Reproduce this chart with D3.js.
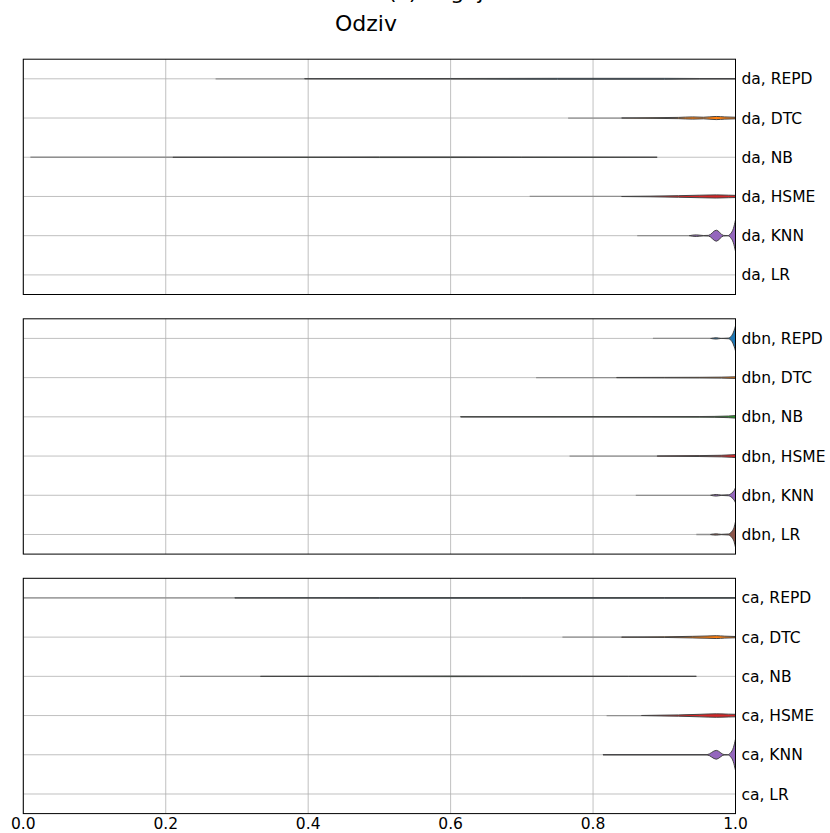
<!DOCTYPE html>
<html>
<head>
<meta charset="utf-8">
<script src="https://cdn.jsdelivr.net/npm/d3@7"></script>
<style>
  html, body { margin: 0; padding: 0; background: #fff; }
  svg { display: block; font-family: "DejaVu Sans", sans-serif; }
</style>
</head>
<body>
<svg id="chart" width="830" height="833"></svg>
<script>
// ---------------- DATA ----------------
const categories = ["REPD", "DTC", "NB", "HSME", "KNN", "LR"];
const groups = ["da", "dbn", "ca"];
const xTicks = [0.0, 0.2, 0.4, 0.6, 0.8, 1.0];
const seriesColors = ["#1f77b4", "#ff7f0e", "#2ca02c", "#d62728", "#9467bd", "#8c564b"];
const suptitle = "(c) Pogojna";
const title = "Odziv";

// faint low-density tails: [start, end] in recall units (null = none)
const tailsDa  = [[0.27, 0.395], [0.765, 0.84], [0.01, 0.21], [0.711, 0.84], [0.862, 0.935], null];
const tailsDbn = [[0.884, 0.965], [0.72, 0.833], null, [0.767, 0.89], [0.86, 0.965], [0.945, 0.965]];
const tailsCa  = [[0.0, 0.297], [0.757, 0.84], [0.22, 0.333], [0.819, 0.868], null, null];

// violin bodies: [recall, relative half-width]
const bodiesDa = [
  [[0.395, 0.01], [0.6, 0.02], [0.75, 0.03], [0.9, 0.03], [0.95, 0.02], [1.0, 0.02]],
  [[0.84, 0.0], [0.88, 0.02], [0.92, 0.04], [0.94, 0.07], [0.955, 0.05], [0.973, 0.1], [0.985, 0.07], [1.0, 0.05]],
  [[0.21, 0.005], [0.4, 0.01], [0.5, 0.02], [0.6, 0.02], [0.7, 0.015], [0.8, 0.01], [0.89, 0.0]],
  [[0.84, 0.005], [0.88, 0.02], [0.92, 0.05], [0.95, 0.08], [0.973, 0.1], [0.99, 0.08], [1.0, 0.07]],
  [[0.935, 0.0], [0.945, 0.05], [0.955, 0.01], [0.962, 0.02], [0.973, 0.35], [0.983, 0.02], [0.989, 0.0], [0.993, 0.12], [0.997, 0.45], [1.0, 1.0]],
  []
];
const bodiesDbn = [
  [[0.965, 0.0], [0.973, 0.04], [0.98, 0.0], [0.99, 0.02], [0.995, 0.2], [0.998, 0.5], [1.0, 0.8]],
  [[0.833, 0.01], [0.9, 0.015], [0.95, 0.02], [0.98, 0.03], [1.0, 0.05]],
  [[0.614, 0.01], [0.8, 0.015], [0.95, 0.02], [0.99, 0.05], [1.0, 0.08]],
  [[0.89, 0.01], [0.95, 0.03], [0.98, 0.05], [0.995, 0.08], [1.0, 0.1]],
  [[0.965, 0.0], [0.973, 0.05], [0.98, 0.01], [0.99, 0.03], [0.995, 0.15], [0.998, 0.3], [1.0, 0.48]],
  [[0.965, 0.01], [0.973, 0.04], [0.98, 0.01], [0.99, 0.03], [0.995, 0.2], [0.998, 0.45], [1.0, 0.82]]
];
const bodiesCa = [
  [[0.297, 0.01], [0.5, 0.02], [0.7, 0.02], [0.9, 0.02], [1.0, 0.02]],
  [[0.84, 0.005], [0.9, 0.02], [0.94, 0.05], [0.96, 0.07], [0.973, 0.09], [0.985, 0.06], [1.0, 0.04]],
  [[0.333, 0.005], [0.5, 0.015], [0.6, 0.02], [0.7, 0.015], [0.85, 0.01], [0.945, 0.0]],
  [[0.868, 0.005], [0.92, 0.04], [0.95, 0.08], [0.973, 0.11], [0.99, 0.09], [1.0, 0.08]],
  [[0.814, 0.01], [0.96, 0.01], [0.973, 0.28], [0.984, 0.01], [0.989, 0.0], [0.993, 0.12], [0.997, 0.45], [1.0, 1.0]],
  []
];
const tails = [tailsDa, tailsDbn, tailsCa];
const bodies = [bodiesDa, bodiesDbn, bodiesCa];

// ---------------- LAYOUT ----------------
const svg = d3.select("#chart");
const left = 23.3, right = 735.5;
const panelTops = [59.2, 318.8, 578.3];
const panelH = 235.3;

const x = d3.scaleLinear().domain([0, 1]).range([left, right]);

svg.append("text")
  .attr("x", 388).attr("y", -1.5)
  .attr("font-size", 22).attr("fill", "#000")
  .text(suptitle);

svg.append("text")
  .attr("x", 366).attr("y", 31)
  .attr("text-anchor", "middle")
  .attr("font-size", 22).attr("fill", "#000")
  .text(title);

const area = d3.area().curve(d3.curveMonotoneX);

groups.forEach((g, gi) => {
  const top = panelTops[gi];
  const y = d3.scaleBand().domain(categories).range([top, top + panelH]).paddingInner(0).paddingOuter(0);
  const maxHW = y.bandwidth() * 0.4;
  const p = svg.append("g");

  const clipId = "clip" + gi;
  svg.append("clipPath").attr("id", clipId)
    .append("rect").attr("x", left).attr("y", top).attr("width", right - left).attr("height", panelH);

  const grid = p.append("g");
  grid.selectAll("line.v").data(xTicks).enter().append("line")
    .attr("x1", d => x(d)).attr("x2", d => x(d))
    .attr("y1", top).attr("y2", top + panelH)
    .attr("stroke", "#b0b0b0").attr("stroke-width", 0.8);
  grid.selectAll("line.h").data(categories).enter().append("line")
    .attr("x1", left).attr("x2", right)
    .attr("y1", d => y(d) + y.bandwidth() / 2).attr("y2", d => y(d) + y.bandwidth() / 2)
    .attr("stroke", "#b0b0b0").attr("stroke-width", 0.8);

  const vg = p.append("g").attr("clip-path", `url(#${clipId})`);
  categories.forEach((c, ci) => {
    const cy = y(c) + y.bandwidth() / 2;
    const t = tails[gi][ci];
    if (t) {
      vg.append("line")
        .attr("x1", x(t[0])).attr("x2", x(t[1]))
        .attr("y1", cy).attr("y2", cy)
        .attr("stroke", "#8f8f8f").attr("stroke-width", 1.3);
    }
    const b = bodies[gi][ci];
    if (b.length) {
      area.x(d => x(d[0]))
          .y0(d => cy - d[1] * maxHW)
          .y1(d => cy + d[1] * maxHW);
      vg.append("path")
        .attr("d", area(b))
        .attr("fill", seriesColors[ci])
        .attr("stroke", "#444")
        .attr("stroke-width", 1)
        .attr("stroke-linejoin", "round");
    }
  });

  p.selectAll("text.lab").data(categories).enter().append("text")
    .attr("x", right + 6)
    .attr("y", d => y(d) + y.bandwidth() / 2)
    .attr("dy", "0.36em")
    .attr("font-size", 15.5).attr("fill", "#000")
    .text(d => `${g}, ${d}`);

  p.append("rect")
    .attr("x", left).attr("y", top).attr("width", right - left).attr("height", panelH)
    .attr("fill", "none").attr("stroke", "#000").attr("stroke-width", 1);

  if (gi === groups.length - 1) {
    p.selectAll("text.xt").data(xTicks).enter().append("text")
      .attr("x", d => x(d))
      .attr("y", top + panelH + 15)
      .attr("text-anchor", "middle")
      .attr("font-size", 15.5).attr("fill", "#000")
      .text(d => d3.format(".1f")(d));
  }
});
</script>
</body>
</html>
